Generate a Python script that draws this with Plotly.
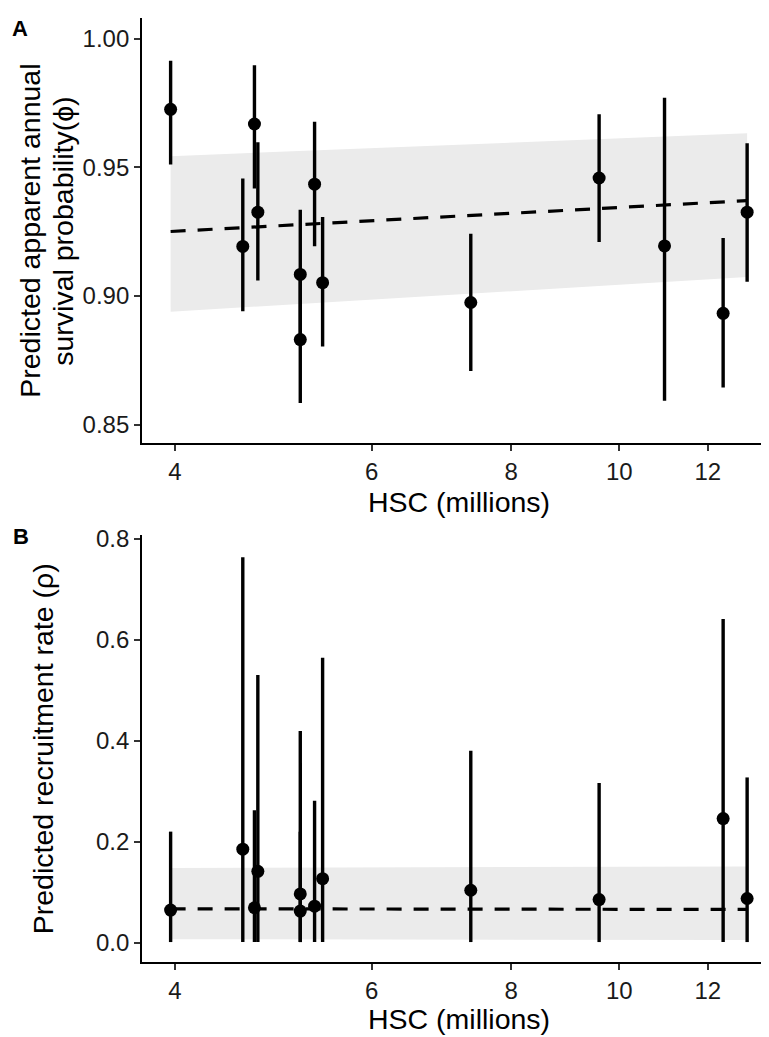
import plotly.graph_objects as go

# ---------------- data ----------------
# Panel A: apparent annual survival probability (phi)
hsc_a = [3.964, 4.600, 4.712, 4.745, 5.179, 5.179, 5.334, 5.423, 7.361, 9.591, 10.976, 12.386, 13.014]
phi = [0.9726, 0.9193, 0.9669, 0.9326, 0.9084, 0.8831, 0.9435, 0.9052, 0.8975, 0.9459, 0.9195, 0.8933, 0.9326]
phi_hi = [0.9915, 0.9457, 0.9897, 0.9598, 0.9336, 0.9080, 0.9678, 0.9307, 0.9242, 0.9707, 0.9771, 0.9226, 0.9594]
phi_lo = [0.9511, 0.8941, 0.9418, 0.9061, 0.8840, 0.8584, 0.9194, 0.8804, 0.8709, 0.9210, 0.8593, 0.8645, 0.9056]

fit_x = [3.964, 13.014]
phi_fit = [0.9251, 0.9371]
phi_fit_hi = [0.9544, 0.9633]
phi_fit_lo = [0.8939, 0.9074]

# Panel B: recruitment rate (rho)
hsc_b = [3.964, 4.600, 4.712, 4.745, 5.179, 5.179, 5.334, 5.423, 7.361, 9.591, 12.386, 13.014]
rho = [0.0643, 0.185, 0.0689, 0.141, 0.0964, 0.0623, 0.0721, 0.1266, 0.1036, 0.0852, 0.2456, 0.0872]
rho_hi = [0.2197, 0.763, 0.262, 0.530, 0.419, 0.2195, 0.281, 0.564, 0.380, 0.316, 0.641, 0.327]
rho_lo = [0.001, 0.001, 0.001, 0.001, 0.001, 0.001, 0.001, 0.001, 0.001, 0.001, 0.001, 0.001]

rho_fit = [0.0669, 0.0656]
rho_fit_hi = [0.1475, 0.1508]
rho_fit_lo = [0.0066, 0.0052]

x_ticks = [4, 6, 8, 10, 12]
ya_ticks = [0.85, 0.90, 0.95, 1.00]
yb_ticks = [0.0, 0.2, 0.4, 0.6, 0.8]

# ---------------- figure ----------------
FONT = "Liberation Sans, Arial, sans-serif"
RIBBON = "#EBEBEB"

fig = go.Figure()


def add_panel(xref, yref, x, y, hi, lo, fy, fhi, flo):
    # ribbon
    fig.add_trace(go.Scatter(x=fit_x, y=fhi, mode="lines", line=dict(width=0, color=RIBBON),
                             xaxis=xref, yaxis=yref, showlegend=False, hoverinfo="skip"))
    fig.add_trace(go.Scatter(x=fit_x, y=flo, mode="lines", line=dict(width=0, color=RIBBON),
                             fill="tonexty", fillcolor=RIBBON,
                             xaxis=xref, yaxis=yref, showlegend=False, hoverinfo="skip"))
    # fitted line
    fig.add_trace(go.Scatter(x=fit_x, y=fy, mode="lines",
                             line=dict(color="black", width=3.2, dash="15px,12px"),
                             xaxis=xref, yaxis=yref, showlegend=False))
    # points with error bars
    up = [h - v for h, v in zip(hi, y)]
    dn = [v - l for v, l in zip(y, lo)]
    fig.add_trace(go.Scatter(x=x, y=y, mode="markers",
                             marker=dict(color="black", size=13, line=dict(width=0)),
                             error_y=dict(type="data", symmetric=False, array=up, arrayminus=dn,
                                          color="black", thickness=3.4, width=0),
                             xaxis=xref, yaxis=yref, showlegend=False))


add_panel("x", "y", hsc_a, phi, phi_hi, phi_lo, phi_fit, phi_fit_hi, phi_fit_lo)
add_panel("x2", "y2", hsc_b, rho, rho_hi, rho_lo, rho_fit, rho_fit_hi, rho_fit_lo)

axis_common = dict(showline=True, linecolor="black", linewidth=1.8, ticks="outside",
                   ticklen=6, tickwidth=1.8, tickcolor="#333333", showgrid=False,
                   zeroline=False, tickfont=dict(family=FONT, size=24, color="#1a1a1a"))

xrange = [0.5725, 1.134]

# page body adds an 8px offset, so the figure is 8px smaller than the window
fig.update_layout(
    width=761, height=1029,
    margin=dict(l=134, r=0, t=0, b=75),
    paper_bgcolor="white", plot_bgcolor="white",
    font=dict(family=FONT, color="black"),
    xaxis=dict(type="log", range=xrange, tickvals=x_ticks, ticktext=[str(t) for t in x_ticks],
               anchor="y", domain=[0, 1], **axis_common),
    yaxis=dict(range=[0.8427, 1.0081], tickvals=ya_ticks, ticktext=[f"{t:.2f}" for t in ya_ticks],
               anchor="x", domain=[0.5493, 1.0], **axis_common),
    xaxis2=dict(type="log", range=xrange, tickvals=x_ticks, ticktext=[str(t) for t in x_ticks],
                anchor="y2", domain=[0, 1], **axis_common),
    yaxis2=dict(range=[-0.0385, 0.808], tickvals=yb_ticks, ticktext=[f"{t:.1f}" for t in yb_ticks],
                anchor="x2", domain=[0.0, 0.4528], **axis_common),
)

TITLE = dict(family=FONT, size=28.5, color="black")
ann = [
    dict(text="HSC (millions)", x=0.505, y=0.4870, font=TITLE, textangle=0),
    dict(text="HSC (millions)", x=0.505, y=-0.0600, font=TITLE, textangle=0),
    dict(text="Predicted apparent annual", x=-0.1786, y=0.7746, font=TITLE, textangle=-90),
    dict(text="survival probability(ϕ)", x=-0.126, y=0.7746, font=TITLE, textangle=-90),
    dict(text="Predicted recruitment rate (ρ)", x=-0.1579, y=0.2264, font=TITLE, textangle=-90),
    dict(text="<b>A</b>", x=-0.1946, y=0.9885, font=dict(family=FONT, size=22, color="black"), textangle=0),
    dict(text="<b>B</b>", x=-0.1930, y=0.4507, font=dict(family=FONT, size=22, color="black"), textangle=0),
]
for a in ann:
    fig.add_annotation(xref="paper", yref="paper", xanchor="center", yanchor="middle",
                       showarrow=False, **a)

fig.write_html("out.html")
